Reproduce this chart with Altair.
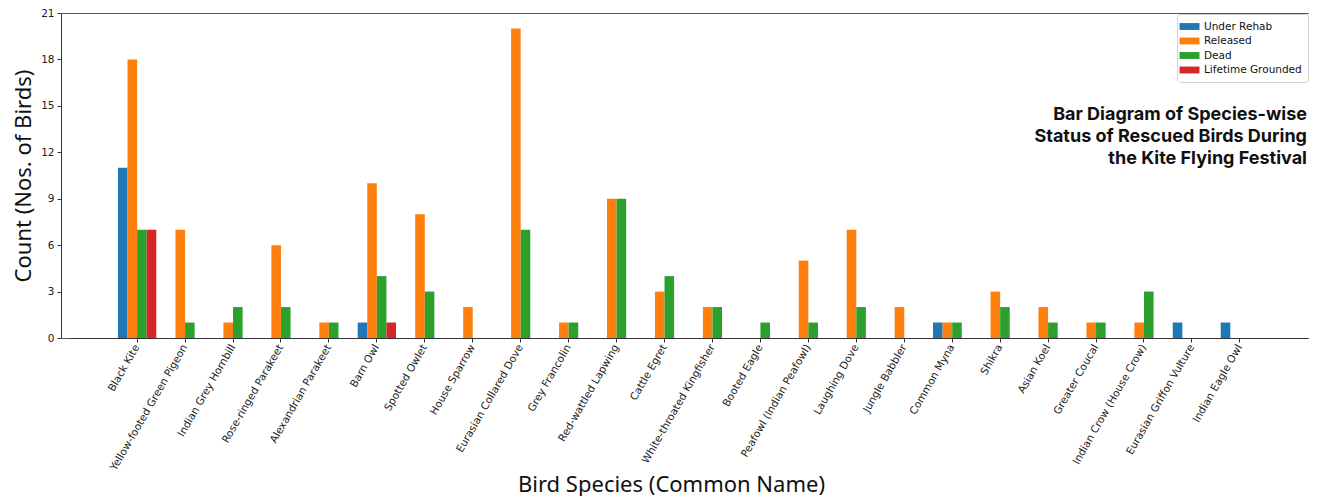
import altair as alt
import pandas as pd

species = [
    "Black Kite", "Yellow-footed Green Pigeon", "Indian Grey Hornbill", "Rose-ringed Parakeet",
    "Alexandrian Parakeet", "Barn Owl", "Spotted Owlet", "House Sparrow", "Eurasian Collared Dove",
    "Grey Francolin", "Red-wattled Lapwing", "Cattle Egret", "White-throated Kingfisher",
    "Booted Eagle", "Peafowl (Indian Peafowl)", "Laughing Dove", "Jungle Babbler", "Common Myna",
    "Shikra", "Asian Koel", "Greater Coucal", "Indian Crow (House Crow)", "Eurasian Griffon Vulture",
    "Indian Eagle Owl",
]
statuses = ["Under Rehab", "Released", "Dead", "Lifetime Grounded"]
under_rehab = [11, 0, 0, 0, 0, 1, 0, 0, 0, 0, 0, 0, 0, 0, 0, 0, 0, 1, 0, 0, 0, 0, 1, 1]
released = [18, 7, 1, 6, 1, 10, 8, 2, 20, 1, 9, 3, 2, 0, 5, 7, 2, 1, 3, 2, 1, 1, 0, 0]
dead = [7, 1, 2, 2, 1, 4, 3, 0, 7, 1, 9, 4, 2, 1, 1, 2, 0, 1, 2, 1, 1, 3, 0, 0]
grounded = [7, 0, 0, 0, 0, 1, 0, 0, 0, 0, 0, 0, 0, 0, 0, 0, 0, 0, 0, 0, 0, 0, 0, 0]
colors = ["#1f77b4", "#ff7f0e", "#2ca02c", "#d62728"]
y_ticks = [0, 3, 6, 9, 12, 15, 18, 21]
title_lines = ["Bar Diagram of Species-wise", "Status of Rescued Birds During", "the Kite Flying Festival"]

rows = []
for i, s in enumerate(species):
    for st, vals in zip(statuses, [under_rehab, released, dead, grounded]):
        rows.append({"species": s, "status": st, "count": vals[i]})
df = pd.DataFrame(rows)

W, H = 1248, 325

bars = alt.Chart(df).mark_bar(strokeWidth=0).encode(
    x=alt.X(
        "species:N",
        sort=species,
        scale=alt.Scale(paddingInner=0.2, paddingOuter=1, range=[9, 1246]),
        axis=alt.Axis(
            title="Bird Species (Common Name)",
            labelAngle=-60, labelAlign="right", labelBaseline="middle",
            labelFont="DejaVu Sans", labelFontSize=10.5, labelColor="#222",
            labelPadding=3, tickSize=4, tickColor="#333", domainColor="#333",
            titleFont="Noto Sans", titleFontSize=22, titleFontWeight="normal",
            titleColor="#111", titleY=153, titleX=610, titleAlign="center",
            titleBaseline="alphabetic",
        ),
    ),
    xOffset=alt.XOffset("status:N", sort=statuses,
                        scale=alt.Scale(domain=statuses, paddingInner=0, paddingOuter=0)),
    y=alt.Y(
        "count:Q",
        scale=alt.Scale(domain=[0, 21], nice=False),
        axis=alt.Axis(
            values=y_ticks, title="Count (Nos. of Birds)", grid=False,
            labelFont="DejaVu Sans", labelFontSize=10.5, labelColor="#222",
            tickSize=4, tickColor="#333", domainColor="#333", labelPadding=3,
            titleFont="Noto Sans", titleFontSize=22, titleFontWeight="normal",
            titleColor="#111", titlePadding=5,
        ),
    ),
    color=alt.Color(
        "status:N",
        scale=alt.Scale(domain=statuses, range=colors),
        legend=alt.Legend(
            title=None, orient="top-right", offset=1,
            symbolType="M-1.6,-0.55H1.6V0.55H-1.6Z", symbolSize=156,
            symbolStrokeWidth=0, symbolOpacity=1,
            labelFont="DejaVu Sans", labelFontSize=10.5, labelColor="#111",
            strokeColor="#d0d0d0", fillColor="white", padding=6, cornerRadius=3,
            rowPadding=2.5, labelOffset=8,
        ),
    ),
)

title_df = pd.DataFrame({"t": ["\n".join(title_lines)]})
title = alt.Chart(title_df).mark_text(
    align="right", baseline="alphabetic", font="Inter", fontSize=18, fontWeight="bold",
    lineBreak="\n", lineHeight=22, color="#111",
).encode(text="t:N", x=alt.value(W - 2), y=alt.value(107))

chart = alt.layer(bars, title).properties(
    width=W, height=H,
    autosize="none",
    padding={"left": 53, "top": 5, "right": 0, "bottom": 158},
).configure_view(stroke="#555", strokeWidth=1)

chart.save("out.html", embed_options={"renderer": "svg", "actions": False})
